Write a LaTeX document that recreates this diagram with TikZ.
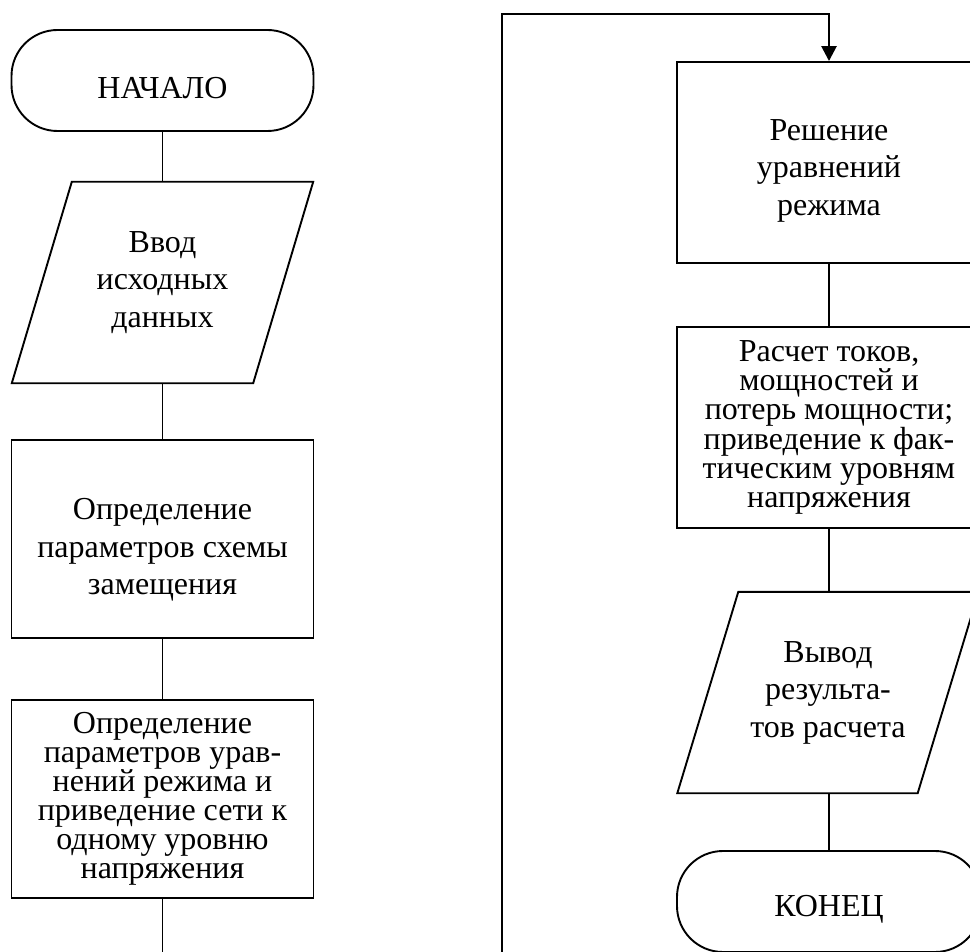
\documentclass[tikz,border=0pt]{standalone}
\usepackage{fontspec}
\setmainfont{Liberation Serif}
\usetikzlibrary{arrows.meta}
\begin{document}
\begin{tikzpicture}[x=1pt,y=-1pt,
  conn/.style={line width=1.9pt},
  loopline/.style={line width=2.6pt},
  lbl/.style={align=center, font=\fontsize{32}{37.5}\selectfont, inner sep=0pt},
  tight/.style={font=\fontsize{32}{29}\selectfont},
  lower/.style={text height=#1},
  procbox/.style={lbl, draw, line width=1.9pt, minimum width=302pt, minimum height=198pt},
  procboxr/.style={lbl, draw, line width=1.9pt, minimum width=304pt, minimum height=201pt},
  iobox/.style={lbl, minimum width=301pt, minimum height=201pt},
  term/.style={lbl, draw, line width=1.9pt, rounded corners=46pt, minimum width=302pt, minimum height=101pt, text height=37pt},
  termr/.style={term, minimum width=304pt}
]
\useasboundingbox (0,0) rectangle (970,952);
\clip (0,0) rectangle (970,952);

% left column
\node[term] (start) at (162.5,80.5) {НАЧАЛО};
\node[iobox] (in) at (162.5,282.5) {Ввод\\исходных\\данных};
\draw[conn] ([xshift=60pt]in.north west) -- (in.north east) -- ([xshift=-60pt]in.south east) -- (in.south west) -- cycle;
\node[procbox, lower=118pt] (par) at (162.5,539) {Определение\\параметров схемы\\замещения};
\node[procbox, tight] (eq) at (162.5,799) {Определение\\параметров урав-\\нений режима и\\приведение сети к\\одному уровню\\напряжения};
\coordinate (lb) at (162.5,952);

\draw[conn] (start.south) -- (in.north);
\draw[conn] (in.south) -- (par.north);
\draw[conn] (par.south) -- (eq.north);
\draw[conn] (eq.south) -- (lb);

% right column
\node[procboxr, lower=112pt] (solve) at (829,162.5) {Решение\\уравнений\\режима};
\node[procboxr, tight] (calc) at (829,427.5) {Расчет токов,\\мощностей и\\потерь мощности;\\приведение к фак-\\тическим уровням\\напряжения};
\node[iobox] (out) at (828,692.5) {Вывод\\результа-\\тов расчета};
\draw[conn] ([xshift=61pt]out.north west) -- (out.north east) -- ([xshift=-61pt]out.south east) -- (out.south west) -- cycle;
\node[termr] (end) at (829,901.5) {КОНЕЦ};

\draw[conn] (solve.south) -- (calc.north);
\draw[conn] (calc.south) -- (calc.south |- out.north);
\draw[conn] (out.south -| end.north) -- (end.north);

% loop connector
\coordinate (lp1) at (502,952);
\coordinate (lp2) at (502,14);
\draw[loopline, -{Triangle[length=15pt,width=15pt]}] (lp1) -- (lp2) -- (lp2 -| solve.north) -- (solve.north);
\end{tikzpicture}
\end{document}
